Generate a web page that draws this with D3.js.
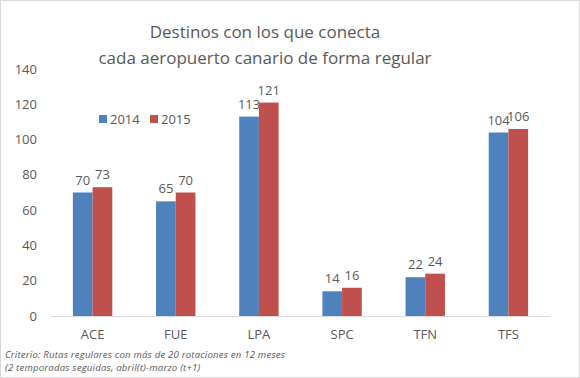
<!DOCTYPE html>
<html>
<head>
<meta charset="utf-8">
<script src="https://cdn.jsdelivr.net/npm/d3@7"></script>
<style>
  body { margin: 0; background: #fff; }
  text { font-family: "Open Sans", "Noto Sans", sans-serif; fill: #595959; }
</style>
</head>
<body>
<div class="chart"></div>
<script>
// data
const airports = ["ACE", "FUE", "LPA", "SPC", "TFN", "TFS"];
const years = ["2014", "2015"];
const values2014 = [70, 65, 113, 14, 22, 104];
const values2015 = [73, 70, 121, 16, 24, 106];
const yTicks = [0, 20, 40, 60, 80, 100, 120, 140];
const titleLines = ["Destinos con los que conecta", "cada aeropuerto canario de forma regular"];
const noteLines = ["Criterio: Rutas regulares con más de 20 rotaciones en 12 meses",
                   "(2 temporadas seguidas, abril(t)-marzo (t+1)"];

const colors = ["#4F81BD", "#C0504D"];
const series = [values2014, values2015];

const width = 580, height = 378;
const margin = { top: 69, right: 30, bottom: 62, left: 51 };

let svg = d3.select(".chart").append("svg")
    .attr("width", width)
    .attr("height", height);

// frame
svg.append("rect")
    .attr("x", 0.5).attr("y", 0.5)
    .attr("width", width - 1).attr("height", height - 1)
    .attr("fill", "#fff")
    .attr("stroke", "#d9d9d9");

// title
svg.append("g")
    .selectAll("text")
    .data(titleLines)
    .join("text")
        .attr("x", 265)
        .attr("y", (d, i) => 38 + i * 26)
        .attr("text-anchor", "middle")
        .attr("font-size", 17)
        .text(d => d);

// scales
let x = d3.scaleBand()
    .domain(airports)
    .range([margin.left, width - margin.right]);
let xs = d3.scaleBand()
    .domain(years)
    .range([0, 39.4]);
let y = d3.scaleLinear()
    .domain([0, 140])
    .range([height - margin.bottom, margin.top]);

// y axis labels
svg.append("g")
    .selectAll("text")
    .data(yTicks)
    .join("text")
        .attr("x", 37)
        .attr("y", d => y(d))
        .attr("dy", "0.35em")
        .attr("text-anchor", "end")
        .attr("font-size", 13)
        .text(d => d);

// bars
const offset = (x.bandwidth() - 39.4) / 2;
years.forEach((yr, s) => {
    let g = svg.append("g");
    g.selectAll("rect")
        .data(airports)
        .join("rect")
            .attr("x", (d, i) => x(d) + offset + xs(yr))
            .attr("y", (d, i) => y(series[s][i]))
            .attr("width", xs.bandwidth())
            .attr("height", (d, i) => y(0) - y(series[s][i]))
            .attr("fill", colors[s]);
    g.selectAll("text")
        .data(airports)
        .join("text")
            .attr("x", (d, i) => x(d) + offset + xs(yr) + xs.bandwidth() / 2)
            .attr("y", (d, i) => y(series[s][i]) - 8)
            .attr("text-anchor", "middle")
            .attr("font-size", 13)
            .text((d, i) => series[s][i]);
});

// x axis
svg.append("line")
    .attr("x1", margin.left).attr("x2", width - margin.right)
    .attr("y1", y(0) + 0.5).attr("y2", y(0) + 0.5)
    .attr("stroke", "#d9d9d9");
svg.append("g")
    .selectAll("text")
    .data(airports)
    .join("text")
        .attr("x", d => x(d) + x.bandwidth() / 2)
        .attr("y", 339)
        .attr("text-anchor", "middle")
        .attr("font-size", 13)
        .text(d => d);

// legend
let legend = svg.append("g")
    .selectAll("g")
    .data(years)
    .join("g")
        .attr("transform", (d, i) => `translate(${99 + i * 51},115)`);
legend.append("rect")
    .attr("width", 8).attr("height", 8)
    .attr("fill", (d, i) => colors[i]);
legend.append("text")
    .attr("x", 11)
    .attr("y", 4)
    .attr("dy", "0.35em")
    .attr("font-size", 13)
    .text(d => d);

// note
svg.append("g")
    .selectAll("text")
    .data(noteLines)
    .join("text")
        .attr("x", 5)
        .attr("y", (d, i) => 357.5 + i * 13.5)
        .attr("font-size", 9.6)
        .attr("font-style", "italic")
        .attr("letter-spacing", 0.2)
        .text(d => d);
</script>
</body>
</html>
